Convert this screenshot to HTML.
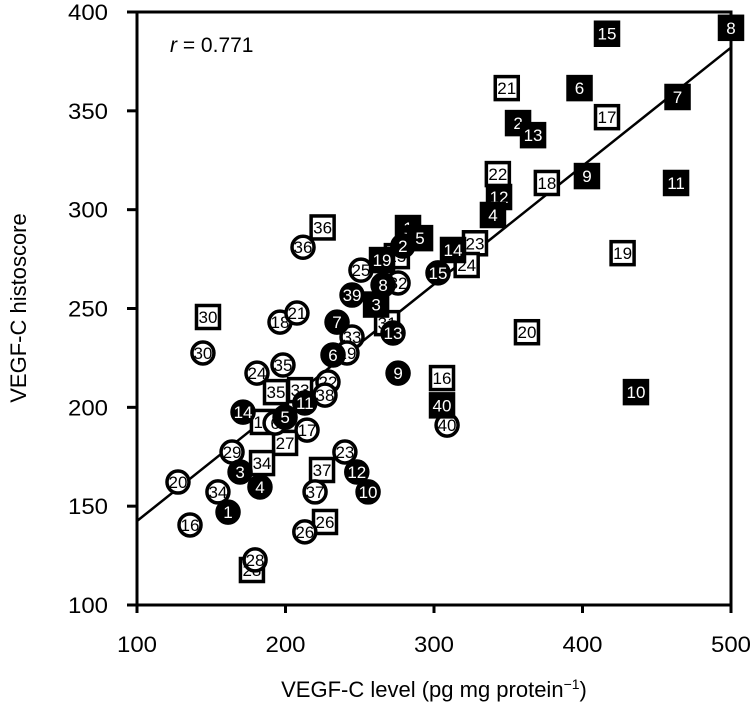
<!DOCTYPE html>
<html><head><meta charset="utf-8"><style>
html,body{margin:0;padding:0;background:#fff;}
svg{display:block;font-family:"Liberation Sans",sans-serif;}
</style></head><body>
<svg id="chart" width="750" height="705" viewBox="0 0 750 705">
<g id="axes"></g>
<g id="marks"></g>
</svg>
<script>
const xTicks=[100,200,300,400,500];
const yTicks=[100,150,200,250,300,350,400];
// filled squares
const fsLabels=["8","15","6","7","2","13","12","4","9","11","10","1","5","19","3","14","40"];
const fsX=[500,416.5,398,464,356.6,366.7,343.8,339.7,403,463,436,282.5,290.6,265,261,312.8,305.4];
const fsY=[392,389,361.5,357,343.8,337.7,306.4,297.3,317,313.5,207.7,290.7,285.6,274.5,252,279.6,201];
// open squares
const osLabels=["21","17","22","18","23","24","19","20","16","36","25","31","30","35","33","16","27","34","37","26","28"];
const osX=[349,416.5,343,376,327.6,322,427,362.6,305.4,225,275,268.4,147.8,193.6,209.8,184.8,199.7,184.2,224.6,226.6,177.4];
const osY=[361.5,346.8,318,313.5,283,272,278,238,214.8,291,276.5,242.6,245.7,207.7,208.7,192.6,182,171.8,168.3,142,117.7];
// open circles
const ocLabels=["36","25","32","33","19","22","38","18","21","30","35","24","6","17","29","20","34","16","23","37","26","28","40"];
const ocX=[211.8,250.8,275.8,244.8,241.4,228.6,226.6,196.3,207.7,144.4,198.3,180.8,193,214.5,164,127.6,154.5,135.7,240,219.9,213,179.5,308.8];
const ocY=[281,269.4,262.9,235.6,227.5,212.8,206.2,243.1,247.7,227.5,221.4,217.3,192,188.5,177.4,162.2,157.2,140.5,177.4,157.2,137,122.8,191];
// filled circles
const fcLabels=["2","39","8","13","7","6","11","14","5","3","4","1","12","10","9","15"];
const fcX=[279,244.8,265.7,272.4,234.7,232,213,171.4,199.7,169.4,182.8,161.3,248,255.6,275.8,302.7];
const fcY=[281.6,256.8,261.9,237.6,243.1,226.5,202.2,197.6,195,167.3,159.7,147,167.3,157.2,217.3,268];
const fitX=[100,500];
const fitY=[142.5,382];

const NS="http://www.w3.org/2000/svg";
const L=137,R=731,T=12,B=605;
function sx(v){return L+(v-100)*(R-L)/400;}
function sy(v){return B-(v-100)*(B-T)/300;}
function mk(tag,attrs,parent){const e=document.createElementNS(NS,tag);for(const k in attrs)e.setAttribute(k,attrs[k]);parent.appendChild(e);return e;}
const axes=document.getElementById('axes');
const marks=document.getElementById('marks');

let frame=mk('rect',{x:L,y:T,width:R-L,height:B-T,fill:'none',stroke:'#000','stroke-width':3},axes);


xTicks.forEach(v=>{
  let t=mk('line',{x1:sx(v),x2:sx(v),y1:B,y2:B+8,stroke:'#000','stroke-width':3},axes);
  
  
  let tx=mk('text',{x:sx(v),y:B+47,'text-anchor':'middle','font-size':22,fill:'#000',textLength:40,lengthAdjust:'spacingAndGlyphs'},axes);
  tx.textContent=v;
  
  
});
yTicks.forEach(v=>{
  let t=mk('line',{x1:L-10,x2:L,y1:sy(v),y2:sy(v),stroke:'#000','stroke-width':3},axes);
  
  
  let tx=mk('text',{x:108,y:sy(v)+8,'text-anchor':'end','font-size':22,fill:'#000',textLength:40,lengthAdjust:'spacingAndGlyphs'},axes);
  tx.textContent=v;
  
  
});
let xt=mk('text',{x:434,y:697,'text-anchor':'middle','font-size':22,fill:'#000'},axes);
xt.innerHTML='VEGF-C level (pg mg protein<tspan dy="-8" font-size="14">−1</tspan><tspan dy="8">)</tspan>';


let yt=mk('text',{x:0,y:0,'text-anchor':'middle','font-size':22,fill:'#000',transform:'translate(26,308) rotate(-90)'},axes);
yt.textContent='VEGF-C histoscore';


let rl=mk('text',{x:170,y:52,'font-size':21,fill:'#000'},axes);
rl.innerHTML='<tspan font-style="italic">r</tspan> = 0.771';



let fit=mk('line',{x1:sx(fitX[0]),y1:sy(fitY[0]),x2:sx(fitX[1]),y2:sy(fitY[1]),stroke:'#000','stroke-width':2.5},marks);



function drawSet(labels,xs,ys,shape,filled,name){
  labels.forEach((lab,i)=>{
    const g=mk('g',{},marks);
    
    
    const cx=sx(xs[i]),cy=sy(ys[i]);
    if(shape==='sq'){
      mk('rect',{x:cx-11.5,y:cy-11.5,width:23,height:23,fill:filled?'#000':'#fff',stroke:'#000','stroke-width':3.5},g);
    }else{
      mk('circle',{cx:cx,cy:cy,r:11,fill:filled?'#000':'#fff',stroke:'#000','stroke-width':3.5},g);
    }
    const t=mk('text',{x:cx,y:cy+6,'text-anchor':'middle','font-size':17,fill:filled?'#fff':'#000'},g);
    t.textContent=lab;
  });
}
drawSet(osLabels,osX,osY,'sq',false,'open-square-point');
drawSet(ocLabels,ocX,ocY,'c',false,'open-circle-point');
drawSet(fsLabels,fsX,fsY,'sq',true,'filled-square-point');
drawSet(fcLabels,fcX,fcY,'c',true,'filled-circle-point');
</script>
</body></html>
